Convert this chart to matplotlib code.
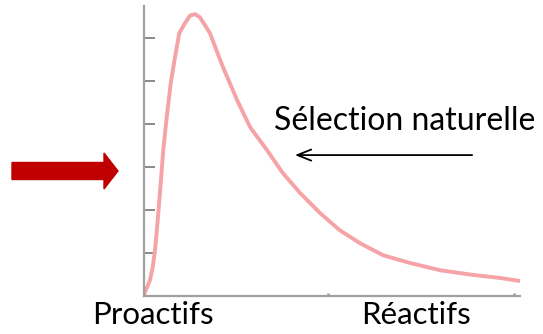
import numpy as np
import matplotlib.pyplot as plt
from matplotlib.patches import FancyArrow

plt.rcParams['font.family'] = ['Lato', 'DejaVu Sans']

# curve (x: 0-101, y: tick units)
curve_x = [0, 0.27, 1.61, 2.34, 2.96, 3.76, 4.49, 5.18, 6.10, 7.17, 8.33,
           9.48, 11.0, 12.4, 13.7, 15.0, 17.7, 21.2, 25.0, 28.5, 33.0,
           37.3, 41.9, 47.3, 52.6, 58.0, 64.2, 71.4, 79.5, 88.4, 95.6, 101.0]
curve_y = [0.0, 0.09, 0.37, 0.67, 1.07, 1.84, 2.63, 3.40, 4.16, 4.95, 5.56,
           6.12, 6.35, 6.53, 6.56, 6.49, 6.12, 5.33, 4.56, 3.93, 3.40,
           2.86, 2.40, 1.93, 1.53, 1.23, 0.95, 0.77, 0.60, 0.49, 0.42, 0.35]
y_ticks = [1, 2, 3, 4, 5, 6]
x_ticks = [49.5, 99.5]
x_labels = ['Proactifs', 'Réactifs']

fig = plt.figure(figsize=(5.43, 3.34), dpi=100)
ax = fig.add_axes([0.2652, 0.1138, 0.6924, 0.8682])

ax.plot(curve_x, curve_y, color='#f5a3a6', lw=2.8,
        solid_capstyle='round', solid_joinstyle='round')

ax.set_xlim(0, 101)
ax.set_ylim(0, 6.75)
for s in ['top', 'right']:
    ax.spines[s].set_visible(False)
for s in ['left', 'bottom']:
    ax.spines[s].set_color('#a0a0a0')
    ax.spines[s].set_linewidth(1.6)

ax.set_yticks(y_ticks)
ax.set_yticklabels([])
ax.tick_params(axis='y', direction='in', length=8, width=1.4, color='#8a8a8a')
ax.set_xticks(x_ticks)
ax.set_xticklabels([])
ax.tick_params(axis='x', direction='in', length=2, width=2, color='#a0a0a0')

# category labels under the axis
fig.text(153 / 543, 1 - 315 / 334, x_labels[0], fontsize=22.5, ha='center', va='center')
fig.text(416 / 543, 1 - 315 / 334, x_labels[1], fontsize=22.5, ha='center', va='center')

# natural selection label + arrow
fig.text(405 / 543, 1 - 121 / 334, 'Sélection naturelle', fontsize=23, ha='center', va='center')
ax.annotate('', xy=(39.8, 3.28), xytext=(88.9, 3.28),
            arrowprops=dict(arrowstyle='->, head_width=0.4, head_length=1.0',
                            color='black', lw=1.3))

# red arrow on the left
fig.patches.append(FancyArrow(12 / 543, 1 - 171 / 334, 106 / 543, 0,
                              width=17 / 334, head_width=36 / 334,
                              head_length=14 / 543, length_includes_head=True,
                              color='#c00000', transform=fig.transFigure, figure=fig))

fig.savefig('out.png', dpi=100)
